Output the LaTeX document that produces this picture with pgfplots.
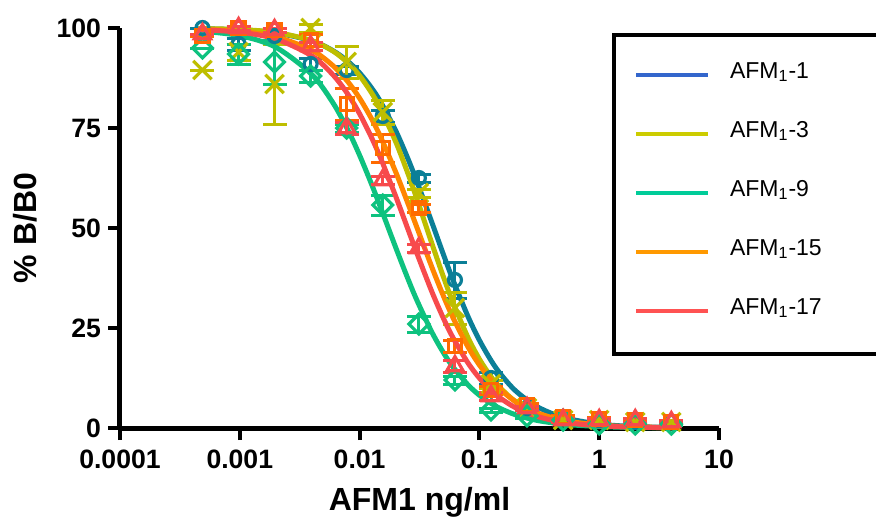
\documentclass[border=0pt]{standalone}
\usepackage{pgfplots}
\pgfplotsset{compat=1.18}
\usepackage{pgfplotstable}
\usepackage{fontspec}
\setmainfont{Liberation Sans}

\definecolor{tealc}{HTML}{0B7F97}
\definecolor{yelc}{HTML}{BEBE00}
\definecolor{grnc}{HTML}{0EC27F}
\definecolor{orac}{HTML}{FF8500}
\definecolor{oram}{HTML}{FF6A00}
\definecolor{redc}{HTML}{F74A4C}
\definecolor{Lone}{HTML}{3366CC}
\definecolor{Lthree}{HTML}{CCCC00}
\definecolor{Lnine}{HTML}{00CC99}
\definecolor{Lfifteen}{HTML}{FF9900}
\definecolor{Lseventeen}{HTML}{FF5252}

\pgfplotstableread{
x c1 c3 c9 c15 c17
0.00045 99.84 99.87 99.26 99.68 99.60
0.001 99.55 99.62 98.09 99.16 98.95
0.002 98.79 98.89 95.18 97.82 97.26
0.004 96.77 96.83 88.36 94.43 93.02
0.006 94.33 94.22 81.27 90.57 88.28
0.008 91.64 91.25 74.47 86.53 83.40
0.01 88.79 88.07 68.19 82.45 78.56
0.0125 85.14 83.92 61.17 77.47 72.79
0.015 81.50 79.74 55.06 72.71 67.42
0.02 74.37 71.60 45.17 64.03 57.97
0.025 67.72 64.06 37.71 56.57 50.16
0.03 61.72 57.36 32.01 50.24 43.78
0.04 51.50 46.25 24.04 40.30 34.16
0.05 43.44 37.85 18.87 33.05 27.47
0.06 37.11 31.48 15.32 27.67 22.66
0.08 27.99 22.72 10.84 20.36 16.34
0.1 21.95 17.22 8.20 15.76 12.48
0.125 16.90 12.82 6.16 12.04 9.42
0.15 13.51 9.99 4.86 9.59 7.45
0.2 9.33 6.63 3.32 6.62 5.09
0.3 5.41 3.65 1.93 3.86 2.94
0.5 2.65 1.69 0.96 1.93 1.45
1 0.99 0.58 0.37 0.74 0.55
2 0.36 0.20 0.14 0.28 0.21
4.5 0.12 0.06 0.04 0.10 0.07
}\curves

\pgfplotstableread{
x y e
0.000488 100 0
0.000977 96 1.5
0.00195 98 1
0.0039 91 1.5
0.0078 89.5 1
0.0156 78 1.5
0.03125 62.5 1
0.0625 37 4.5
0.125 12.5 1.5
0.25 5 0.5
0.5 2.5 0.5
1 2 0.5
2 1.5 0.3
4 1.5 0.3
}\dA

\pgfplotstableread{
x y e
0.000488 89.5 0
0.000977 94 2
0.00195 86 10
0.0039 100 1
0.0078 91.5 4
0.0156 79 3
0.03125 58.75 1
0.0625 30 4
0.125 11 1
0.25 5 0.5
0.5 2 0.5
1 2 0.5
2 1.5 0.3
4 1.5 0.3
}\dB

\pgfplotstableread{
x y e
0.000488 95 0
0.000977 93.5 2.5
0.00195 91.5 5.5
0.0039 88 1.5
0.0078 75 1
0.0156 55.75 2.5
0.03125 26 2
0.0625 12 1
0.125 4.5 0.5
0.25 3 0.5
0.5 2 0.3
1 1 0.3
2 1 0.3
4 1 0.3
}\dC

\pgfplotstableread{
x y e
0.000488 98 0
0.000977 100 0.5
0.00195 99.5 0.5
0.0039 97 1.5
0.0078 81 4
0.0156 70 3.5
0.03125 55 1
0.0625 20.5 1.5
0.125 9.5 1
0.25 5.75 0.5
0.5 2.75 0.3
1 2.25 0.3
2 2 0.3
4 1.6 0.3
}\dD

\pgfplotstableread{
x y e
0.000488 98.5 0
0.000977 100 0.5
0.00195 99.5 0.5
0.0039 95.5 1
0.0078 75 1.5
0.0156 62 1
0.03125 45 1
0.0625 15.5 1.5
0.125 8 1
0.25 5 0.5
0.5 2 0.5
1 2 0.5
2 2 0.5
4 1.5 0.3
}\dE

\pgfplotsset{
  pts/.style={only marks, forget plot,
    error bars/y dir=both, error bars/y explicit,
    error bars/error bar style={line width=1.5pt},
    error bars/error mark options={rotate=90, mark size=6pt, line width=1.5pt}},
  crv/.style={line width=2.5pt, smooth, no marks, forget plot},
}

\begin{document}
\begin{tikzpicture}
\begin{axis}[
  scale only axis, width=299.5pt, height=200pt,
  xmode=log, xmin=0.0001, xmax=10, ymin=0, ymax=100,
  axis x line*=bottom, axis y line*=left,
  axis line style={line width=2.5pt, black},
  xtick={0.0001,0.001,0.01,0.1,1,10},
  xticklabels={0.0001,0.001,0.01,0.1,1,10},
  ytick={0,25,50,75,100},
  xminorticks=false, yminorticks=false,
  tick align=outside, major tick length=6pt,
  tick style={line width=2pt, black},
  ticklabel style={font=\fontsize{13.3}{15}\selectfont\bfseries},
  xticklabel style={yshift=-1.5pt},
  /pgf/number format/assume math mode=true,
  xlabel={AFM1 ng/ml}, ylabel={\% B/B0},
  label style={font=\fontsize{16}{18}\selectfont\bfseries},
  xlabel style={at={(axis description cs:0.5,-0.185)}, anchor=center},
  ylabel style={at={(axis description cs:-0.1586,0.5)}, anchor=center},
  clip=false,
  legend style={
    at={(0.8214,0.9875)}, anchor=north west,
    draw=black, line width=2pt, fill=white,
    inner xsep=10pt, inner ysep=11.5pt,
    row sep=11pt,
    font=\fontsize{11.5}{13}\selectfont,
    /tikz/every odd column/.append style={column sep=10pt},
    nodes={inner sep=0pt, text height=10pt, text depth=8.5pt, text width=110pt, anchor=base west},
  },
  legend cell align=left,
  legend image code/.code={\draw[line width=2pt,#1] (0pt,1.5pt) -- (36pt,1.5pt);},
]
\addlegendimage{Lone}\addlegendentry{AFM\textsubscript{1}-1}
\addlegendimage{Lthree}\addlegendentry{AFM\textsubscript{1}-3}
\addlegendimage{Lnine}\addlegendentry{AFM\textsubscript{1}-9}
\addlegendimage{Lfifteen}\addlegendentry{AFM\textsubscript{1}-15}
\addlegendimage{Lseventeen}\addlegendentry{AFM\textsubscript{1}-17}

\addplot[tealc, pts, mark=o, mark size=3.25pt, mark options={solid, line width=1.6pt}] table[x=x,y=y,y error=e]{\dA};
\addplot[tealc, crv] table[x=x,y=c1]{\curves};
\addplot[yelc, pts, mark=x, mark size=6.5pt, mark options={solid, line width=1.6pt}] table[x=x,y=y,y error=e]{\dB};
\addplot[yelc, crv] table[x=x,y=c3]{\curves};
\addplot[grnc, pts, mark=square, mark size=3.5pt, mark options={solid, line width=1.6pt, rotate=45}] table[x=x,y=y,y error=e]{\dC};
\addplot[grnc, crv] table[x=x,y=c9]{\curves};
\addplot[oram, pts, mark=square, mark size=3.25pt, mark options={solid, line width=1.6pt}] table[x=x,y=y,y error=e]{\dD};
\addplot[orac, crv] table[x=x,y=c15]{\curves};
\addplot[redc, pts, mark=triangle, mark size=4.7pt, mark options={solid, line width=1.6pt}] table[x=x,y=y,y error=e]{\dE};
\addplot[redc, crv] table[x=x,y=c17]{\curves};
\end{axis}
\pgfresetboundingbox
\path (-60pt,-46.5pt) rectangle (378pt,214pt);
\end{tikzpicture}
\end{document}
